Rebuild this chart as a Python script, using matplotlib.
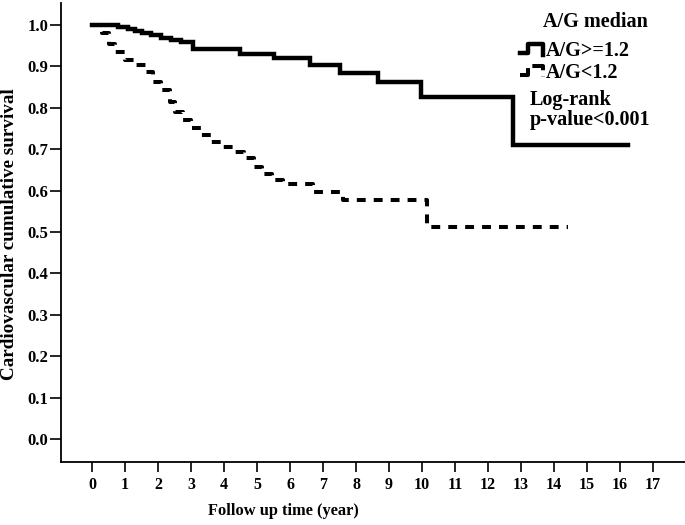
import matplotlib
matplotlib.use("Agg")
import matplotlib.pyplot as plt
from matplotlib.lines import Line2D
from matplotlib.legend_handler import HandlerBase

# ---- data ----
high_times = [0, 0.8, 1.1, 1.3, 1.5, 1.8, 2.1, 2.4, 2.7, 3.05, 4.48, 5.5, 6.6, 7.5, 8.67, 9.96, 12.75, 16.24]
high_surv = [1.0, 0.995, 0.99, 0.985, 0.98, 0.975, 0.968, 0.963, 0.958, 0.941, 0.931, 0.919, 0.903, 0.885, 0.863, 0.827, 0.710, 0.710]

low_times = [0, 0.3, 0.5, 0.7, 1.0, 1.3, 1.65, 1.85, 2.1, 2.35, 2.5, 2.75, 3.0, 3.3, 3.6, 3.95, 4.3, 4.6,
             4.9, 5.15, 5.45, 5.8, 6.7, 7.62, 10.14, 14.42]
low_surv = [1.0, 0.98, 0.955, 0.935, 0.915, 0.903, 0.887, 0.863, 0.843, 0.815, 0.79, 0.771, 0.75, 0.734,
            0.718, 0.706, 0.694, 0.678, 0.658, 0.640, 0.626, 0.615, 0.597, 0.577, 0.513, 0.513]

x_ticks = list(range(0, 18))
y_ticks = [0.0, 0.1, 0.2, 0.3, 0.4, 0.5, 0.6, 0.7, 0.8, 0.9, 1.0]
labels = ["A/G>=1.2", "A/G<1.2"]

FONT = "Liberation Serif"
plt.rcParams["font.family"] = [FONT, "DejaVu Serif"]
plt.rcParams["font.weight"] = "bold"

fig = plt.figure(figsize=(6.85, 5.25), dpi=100)
W, H = 685, 525
ax = fig.add_axes([61 / W, (525 - 462) / H, (685 - 61) / W, (462 - 3) / H])

dash = (0, (2.2, 2.0))
l1, = ax.step(high_times, high_surv, where="post", color="black", lw=3.2, solid_joinstyle="miter")
l2, = ax.step(low_times, low_surv, where="post", color="black", lw=2.9, linestyle=dash,
              dash_capstyle="butt")

ax.set_xlim(-0.94, 17.97)
ax.set_ylim(-0.0556, 1.053)
ax.set_xticks(x_ticks)
ax.set_xticklabels([str(t) for t in x_ticks], fontsize=11.5, fontweight="bold")
ax.set_yticks(y_ticks)
ax.set_yticklabels([f"{v:.1f}" for v in y_ticks], fontsize=12, fontweight="bold")
ax.tick_params(axis="x", direction="out", length=7, width=1.2, pad=4)
ax.tick_params(axis="y", direction="out", length=8, width=1.2, pad=1)
for s in ["top", "right"]:
    ax.spines[s].set_visible(False)
for s in ["left", "bottom"]:
    ax.spines[s].set_linewidth(1.3)

ax.set_xlabel("Follow up time (year)", fontsize=11.8, fontweight="bold")
ax.xaxis.set_label_coords(0.357, -0.107)
ax.xaxis.label.set_va("center")
ax.set_ylabel("Cardiovascular cumulative survival", fontsize=13.8, fontweight="bold")
ax.yaxis.set_label_coords(-0.082, 0.496)
ax.yaxis.label.set_va("center")


class StepHandler(HandlerBase):
    def create_artists(self, legend, orig_handle, xdescent, ydescent, width, height, fontsize, trans):
        x0 = -xdescent
        y0 = -ydescent
        xs = [x0, x0 + 0.35 * width, x0 + 0.35 * width, x0 + 0.95 * width, x0 + 0.95 * width]
        ys = [y0 + 0.2 * height, y0 + 0.2 * height, y0 + 0.85 * height, y0 + 0.85 * height, y0 + 0.1 * height]
        ln = Line2D(xs, ys, color="black", lw=orig_handle.get_linewidth(),
                    linestyle=orig_handle.get_linestyle(), dash_capstyle="butt", transform=trans)
        return [ln]


leg = ax.legend([l1, l2], labels, loc="upper left",
                bbox_to_anchor=(520 / W, (525 - 41) / H), bbox_transform=fig.transFigure,
                frameon=False, prop={"family": FONT, "weight": "bold", "size": 14.5},
                handler_map={l1: StepHandler(), l2: StepHandler()},
                handlelength=1.2, handletextpad=0.1, labelspacing=0.1, borderaxespad=0,
                borderpad=0)

fig.text(595 / W, (525 - 22) / H, "A/G median", fontsize=14.5, fontweight="bold",
         family=FONT, ha="center", va="center")
fig.text(530 / W, (525 - 110) / H, "Log-rank\np-value<0.001", fontsize=14.5, fontweight="bold",
         family=FONT, ha="left", va="center", linespacing=1.0)

fig.savefig("out.png", dpi=100)
